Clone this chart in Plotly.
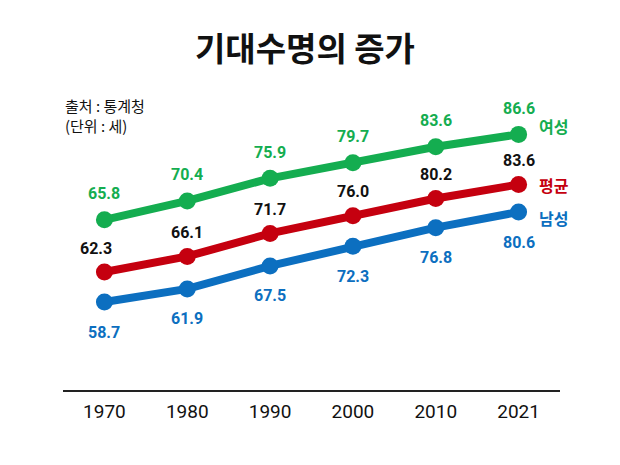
import plotly.graph_objects as go

years = ["1970", "1980", "1990", "2000", "2010", "2021"]
female = [65.8, 70.4, 75.9, 79.7, 83.6, 86.6]
average = [62.3, 66.1, 71.7, 76.0, 80.2, 83.6]
male = [58.7, 61.9, 67.5, 72.3, 76.8, 80.6]
series_names = ["여성", "평균", "남성"]

GREEN = "#14ad50"
RED = "#c5000f"
BLUE = "#0c6fc0"
NUM_FONT = "Roboto, Noto Sans CJK KR, sans-serif"
KR_FONT = "Noto Sans CJK KR, sans-serif"

fig = go.Figure()
specs = [
    (female, GREEN, "y", GREEN, 26, series_names[0], -8),
    (average, RED, "y2", "#111111", 24, series_names[1], 0),
    (male, BLUE, "y3", BLUE, -30, series_names[2], 6),
]
annotations = []
for vals, color, yax, lab_color, yshift, name, name_shift in specs:
    fig.add_trace(go.Scatter(
        x=years, y=vals, mode="lines+markers", yaxis=yax,
        line=dict(color=color, width=8),
        marker=dict(color=color, size=17),
        showlegend=False, hoverinfo="skip",
    ))
    for i, v in enumerate(vals):
        xs = -8 if (yax == "y2" and i == 0) else 0
        annotations.append(dict(
            x=i, y=v, xref="x", yref=yax, text=f"<b>{v:.1f}</b>", showarrow=False,
            yshift=yshift, xshift=xs,
            font=dict(family=NUM_FONT, size=16, color=lab_color),
        ))
    annotations.append(dict(
        x=len(vals) - 1, y=vals[-1], xref="x", yref=yax, text=f"<b>{name}</b>", showarrow=False,
        xshift=35, yshift=-name_shift,
        font=dict(family=KR_FONT, size=16, color=color),
    ))

annotations.append(dict(
    x=0, y=1.0, xref="paper", yref="paper", xanchor="left", yanchor="top", yshift=-3,
    text="출처 : 통계청<br>(단위 : 세)", showarrow=False, align="left",
    font=dict(family=KR_FONT, size=15, color="#111111")))

hidden = dict(showgrid=False, zeroline=False, showline=False, showticklabels=False, ticks="")

fig.update_layout(
    width=620, height=465,
    margin=dict(l=55, r=68, t=82, b=83),
    plot_bgcolor="white", paper_bgcolor="white",
    title=dict(text="<b>기대수명의 증가</b>", x=0.479, xanchor="center", y=0.91, yanchor="middle",
               font=dict(family=KR_FONT, size=33, color="#111111")),
    xaxis=dict(type="category", range=[-0.5, 5.5], showgrid=False, zeroline=False,
               showline=True, linecolor="#222222", linewidth=1.5, ticks="",
               tickfont=dict(family=NUM_FONT, size=19, color="#111111"), ticklabelstandoff=3),
    yaxis=dict(range=[24.4, 97.4], **hidden),
    yaxis2=dict(range=[33.6, 106.6], overlaying="y", **hidden),
    yaxis3=dict(range=[37.3, 110.3], overlaying="y", **hidden),
    annotations=annotations,
)
fig.write_html("out.html")
